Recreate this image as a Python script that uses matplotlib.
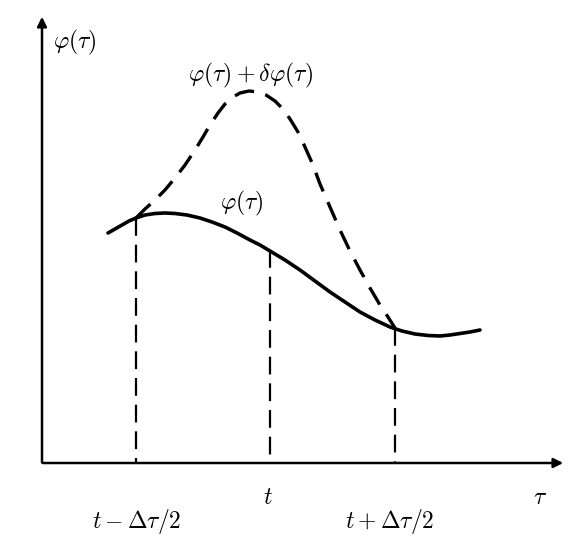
import matplotlib
matplotlib.use("Agg")
import matplotlib.pyplot as plt
plt.rcParams['mathtext.fontset'] = 'cm'

solid_x = [108,115,122,129,136,145,155,165,175,187,200,212,225,237,250,260,270,285,300,315,330,345,360,375,390,402,415,428,440,450,460,470,480]
solid_y = [233,229,225,221,218,215,213.5,213,213.5,215,218,222,227,233,240,245,251,260,270,281,292,302,312,320,327,331,334,335.5,336,335,333.5,332,330]
dash_x = [136,145,155,165,175,185,195,203,210,218,225,233,240,249,258,266,275,283,290,298,305,313,320,330,340,350,360,370,380,388,395]
dash_y = [218,209,200,190,178,165,150,137,125,113,104,97,93,91,92,95,101,109,119,132,147,165,184,207,230,251,270,288,305,317,328]
vlines_x = [136,270,395]
vlines_top = [218,250,328]

fig = plt.figure(figsize=(5.86,5.56), dpi=100)
ax = fig.add_axes([0,0,1,1])
ax.set_xlim(0,586); ax.set_ylim(556,0); ax.axis('off')
ax.plot(solid_x, solid_y, color='black', lw=2.6, solid_capstyle='round', solid_joinstyle='round')
ax.plot(dash_x, dash_y, color='black', lw=2.4, dashes=(6,3.5), dash_joinstyle='round')
for x, t in zip(vlines_x, vlines_top):
    ax.plot([x,x],[t,463], color='black', lw=1.6, dashes=(8,4))
ax.annotate('', xy=(566,463), xytext=(40,463), arrowprops=dict(arrowstyle='-|>', color='black', lw=1.8, mutation_scale=14))
ax.annotate('', xy=(42,14), xytext=(42,465), arrowprops=dict(arrowstyle='-|>', color='black', lw=1.8, mutation_scale=14))
fs = 17
ax.text(75,42,r'$\varphi(\tau)$', fontsize=fs, ha='center', va='center')
ax.text(250,75,r'$\varphi(\tau)+\delta\varphi(\tau)$', fontsize=fs, ha='center', va='center')
ax.text(242,203,r'$\varphi(\tau)$', fontsize=fs, ha='center', va='center')
ax.text(268,497,r'$t$', fontsize=fs, ha='center', va='center')
ax.text(137,522,r'$t-\Delta\tau/2$', fontsize=fs, ha='center', va='center')
ax.text(390,522,r'$t+\Delta\tau/2$', fontsize=fs, ha='center', va='center')
ax.text(540,497,r'$\tau$', fontsize=fs, ha='center', va='center')
fig.savefig('out.png', dpi=100)
